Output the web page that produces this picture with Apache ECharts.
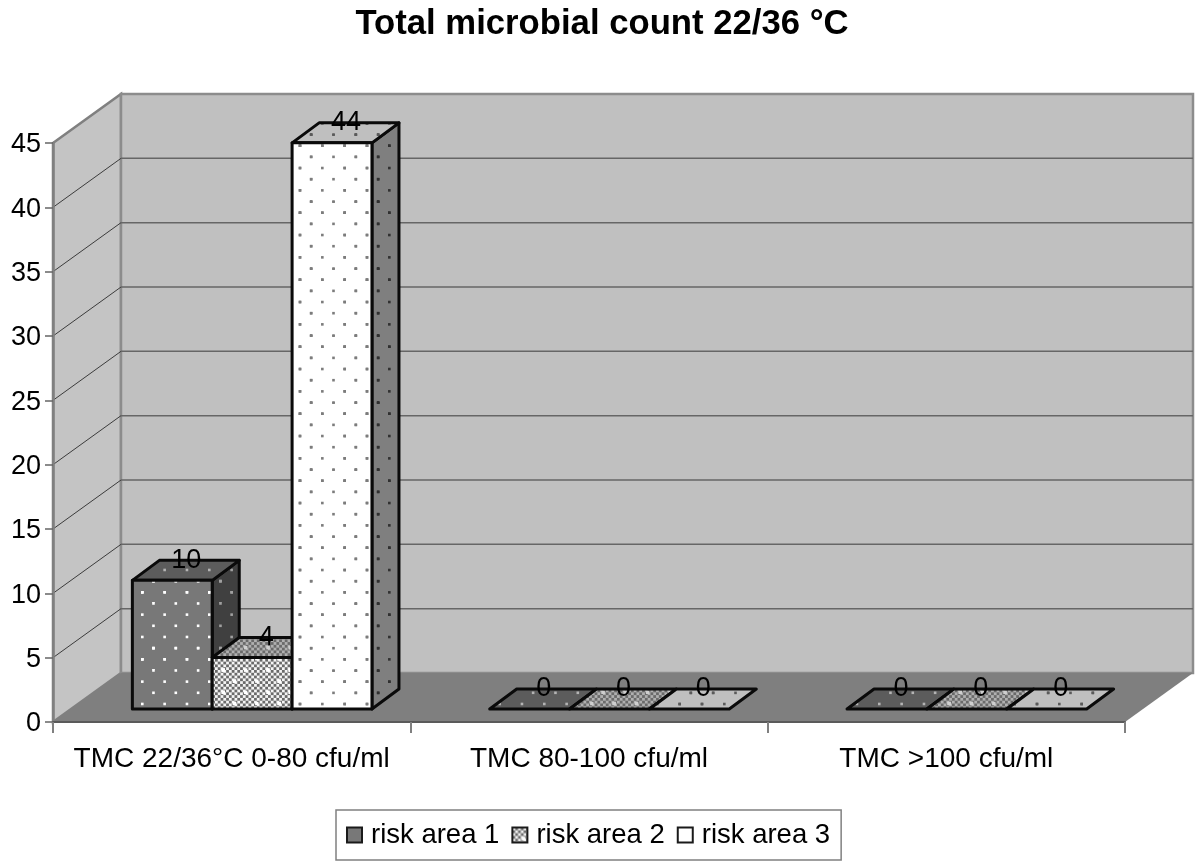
<!DOCTYPE html>
<html>
<head>
<meta charset="utf-8">
<title>Total microbial count 22/36 °C</title>
<style>
  html, body { margin: 0; padding: 0; background: #fff; }
  #chart { width: 1200px; height: 867px; }
</style>
</head>
<body>
<div id="chart"></div>
<script src="https://cdn.jsdelivr.net/npm/echarts@6/dist/echarts.min.js"></script>
<script>
var titleText = 'Total microbial count 22/36 °C'
var categories = ['TMC 22/36°C 0-80 cfu/ml', 'TMC 80-100 cfu/ml', 'TMC >100 cfu/ml']
var seriesNames = ['risk area 1', 'risk area 2', 'risk area 3']
var riskArea1 = [10, 0, 0]
var riskArea2 = [4, 0, 0]
var riskArea3 = [44, 0, 0]
var yTicks = [0, 5, 10, 15, 20, 25, 30, 35, 40, 45]

var FONT = '"Liberation Sans", Arial, sans-serif'
var WALL_DX = 68
var WALL_DY = -49
// bars stand a little behind the front edge of the floor
var BAR_SHIFT_X = 20.5
var BAR_SHIFT_Y = -13
var BAR_DX = 27
var BAR_DY = -20
var BAR_WIDTH_RATIO = 0.2235

// repeating tiles, 67px = 3 dot columns of the original hatch
var TILE = 67
function latticeDots (ctx, color, size, ox, oy) {
  var stepX = TILE / 3
  var stepY = TILE / 6
  ctx.fillStyle = color
  for (var r = -1; r < 7; r++) {
    for (var c = -1; c < 4; c++) {
      var x = (ox % TILE) + c * stepX + (r % 2 ? stepX / 2 : 0)
      var y = (oy % TILE) + r * stepY
      ctx.fillRect(x - size / 2, y - size / 2, size, size)
      ctx.fillRect(x - size / 2 - TILE, y - size / 2, size, size)
      ctx.fillRect(x - size / 2, y - size / 2 - TILE, size, size)
    }
  }
}
function newTile (bg) {
  var canvas = document.createElement('canvas')
  canvas.width = TILE
  canvas.height = TILE
  var ctx = canvas.getContext('2d')
  ctx.fillStyle = bg
  ctx.fillRect(0, 0, TILE, TILE)
  return { canvas: canvas, ctx: ctx }
}
function dotted (bg, dot, ox, oy) {
  var t = newTile(bg)
  latticeDots(t.ctx, dot, 2.6, ox, oy)
  return { image: t.canvas, repeat: 'repeat' }
}
function checked (light, dark, plus, ox, oy) {
  var t = newTile(light)
  var cell = TILE / 24
  t.ctx.fillStyle = dark
  for (var r = 0; r < 24; r++) {
    for (var c = 0; c < 24; c++) {
      if ((r + c) % 2) t.ctx.fillRect(c * cell, r * cell, cell, cell)
    }
  }
  latticeDots(t.ctx, plus, 3.4, ox, oy)
  return { image: t.canvas, repeat: 'repeat' }
}

var faces = [
  {
    front: dotted('#787878', '#ffffff', 142.3, 592.3),
    side: dotted('#404040', '#a0a0a0', 142.3, 592.3),
    top: dotted('#5c5c5c', '#b4b4b4', 142.3, 592.3)
  },
  {
    front: checked('#f4f4f4', '#6a6a6a', '#ffffff', 223.3, 670),
    side: checked('#777777', '#444444', '#999999', 223.3, 670),
    top: checked('#b0b0b0', '#6a6a6a', '#cfcfcf', 223.3, 670)
  },
  {
    front: dotted('#ffffff', '#7c7c7c', 300, 145.7),
    side: dotted('#7f7f7f', '#303030', 300, 145.7),
    top: dotted('#bfbfbf', '#5a5a5a', 300, 145.7)
  }
]
var legendFills = ['#787878', faces[1].front, '#ffffff']

function renderWalls (params, api) {
  var cs = params.coordSys
  var left = cs.x
  var right = cs.x + cs.width
  var bottom = cs.y + cs.height
  var top = cs.y
  var children = [
    {
      type: 'polygon',
      shape: { points: [[left, top], [left + WALL_DX, top + WALL_DY], [left + WALL_DX, bottom + WALL_DY], [left, bottom]] },
      style: { fill: '#c4c4c4', stroke: '#808080', lineWidth: 2.5 }
    },
    {
      type: 'polygon',
      shape: { points: [[left + WALL_DX, top + WALL_DY], [right + WALL_DX, top + WALL_DY], [right + WALL_DX, bottom + WALL_DY], [left + WALL_DX, bottom + WALL_DY]] },
      style: { fill: '#c0c0c0', stroke: '#8c8c8c', lineWidth: 2.5 }
    },
    {
      type: 'polygon',
      shape: { points: [[left, bottom], [right, bottom], [right + WALL_DX, bottom + WALL_DY], [left + WALL_DX, bottom + WALL_DY]] },
      style: { fill: '#7f7f7f' }
    }
  ]
  yTicks.forEach(function (v) {
    if (v === 0 || v === yTicks[yTicks.length - 1]) return
    var y = api.coord([0, v])[1]
    children.push({
      type: 'line',
      shape: { x1: left + WALL_DX, y1: y + WALL_DY, x2: right + WALL_DX, y2: y + WALL_DY },
      style: { stroke: '#666666', lineWidth: 1.5 }
    })
    children.push({
      type: 'line',
      shape: { x1: left, y1: y, x2: left + WALL_DX, y2: y + WALL_DY },
      style: { stroke: '#3c3c3c', lineWidth: 1 }
    })
  })
  return { type: 'group', children: children }
}

function makeRenderBar (seriesIndex) {
  return function (params, api) {
    var cat = api.value(0)
    var value = api.value(1)
    var band = api.size([1, 0])[0]
    var w = band * BAR_WIDTH_RATIO
    var center = api.coord([cat, 0])[0] + BAR_SHIFT_X
    var x0 = center - 1.5 * w + seriesIndex * w
    var x1 = x0 + w
    var y0 = api.coord([cat, 0])[1] + BAR_SHIFT_Y
    var y1 = api.coord([cat, value])[1] + BAR_SHIFT_Y
    var look = faces[seriesIndex]
    var edge = { stroke: '#0a0a0a', lineWidth: 3, lineJoin: 'round' }
    var children = []
    if (value > 0) {
      children.push({
        type: 'polygon',
        shape: { points: [[x1, y1], [x1 + BAR_DX, y1 + BAR_DY], [x1 + BAR_DX, y0 + BAR_DY], [x1, y0]] },
        style: Object.assign({ fill: look.side }, edge)
      })
    }
    children.push({
      type: 'polygon',
      shape: { points: [[x0, y1], [x0 + BAR_DX, y1 + BAR_DY], [x1 + BAR_DX, y1 + BAR_DY], [x1, y1]] },
      style: Object.assign({ fill: look.top }, edge)
    })
    if (value > 0) {
      children.push({
        type: 'rect',
        shape: { x: x0, y: y1, width: w, height: y0 - y1 },
        style: Object.assign({ fill: look.front }, edge)
      })
    }
    children.push({
      type: 'text',
      x: (x0 + x1) / 2 + 14,
      y: y1 - 20,
      z2: 10,
      style: {
        text: String(value),
        fill: '#000000',
        font: '27px ' + FONT,
        align: 'center',
        verticalAlign: 'middle'
      }
    })
    return { type: 'group', children: children }
  }
}

function barSeries (index, values) {
  return {
    name: seriesNames[index],
    type: 'custom',
    coordinateSystem: 'cartesian2d',
    clip: false,
    silent: true,
    encode: { x: 0, y: 1 },
    data: values.map(function (v, i) { return [i, v] }),
    renderItem: makeRenderBar(index)
  }
}

var chart = echarts.init(document.getElementById('chart'), null, { renderer: 'canvas' })
chart.setOption({
  animation: false,
  backgroundColor: '#ffffff',
  title: {
    text: titleText,
    left: 597,
    top: 2,
    textAlign: 'center',
    textStyle: { fontFamily: FONT, fontSize: 34.7, fontWeight: 'bold', color: '#000000' }
  },
  grid: { left: 53, right: 75, top: 143, bottom: 145 },
  xAxis: {
    type: 'category',
    data: categories,
    z: 5,
    axisLine: { lineStyle: { color: '#5a5a5a', width: 2 } },
    axisTick: { show: true, alignWithLabel: false, length: 11, lineStyle: { color: '#808080', width: 2 } },
    axisLabel: { interval: 0, margin: 23, fontFamily: FONT, fontSize: 28, color: '#000000' }
  },
  yAxis: {
    type: 'value',
    min: 0,
    max: 45,
    interval: 5,
    z: 5,
    splitLine: { show: false },
    axisLine: { show: true, lineStyle: { color: '#808080', width: 2.5 } },
    axisTick: { show: true, length: 8, lineStyle: { color: '#666666', width: 1.5 } },
    // top + small lineHeight nudges the digits 2px below the tick, as in the original
    axisLabel: { margin: 12, verticalAlign: 'top', lineHeight: 4, fontFamily: FONT, fontSize: 27, color: '#000000' }
  },
  legend: {
    left: 336,
    top: 810,
    orient: 'horizontal',
    padding: [11, 11, 11, 10],
    itemWidth: 15,
    itemHeight: 15,
    itemGap: 12,
    selectedMode: false,
    borderColor: '#808080',
    borderWidth: 1.5,
    textStyle: { fontFamily: FONT, fontSize: 27.5, color: '#000000', padding: [0, 0, 0, 4] },
    data: seriesNames.map(function (name, i) {
      return {
        name: name,
        icon: 'rect',
        itemStyle: { color: legendFills[i], borderColor: '#1a1a1a', borderWidth: 2 }
      }
    })
  },
  series: [
    {
      type: 'custom',
      coordinateSystem: 'cartesian2d',
      clip: false,
      silent: true,
      encode: { x: 0, y: 1 },
      data: [[0, 0]],
      renderItem: renderWalls
    },
    barSeries(0, riskArea1),
    barSeries(1, riskArea2),
    barSeries(2, riskArea3)
  ]
})
</script>
</body>
</html>
